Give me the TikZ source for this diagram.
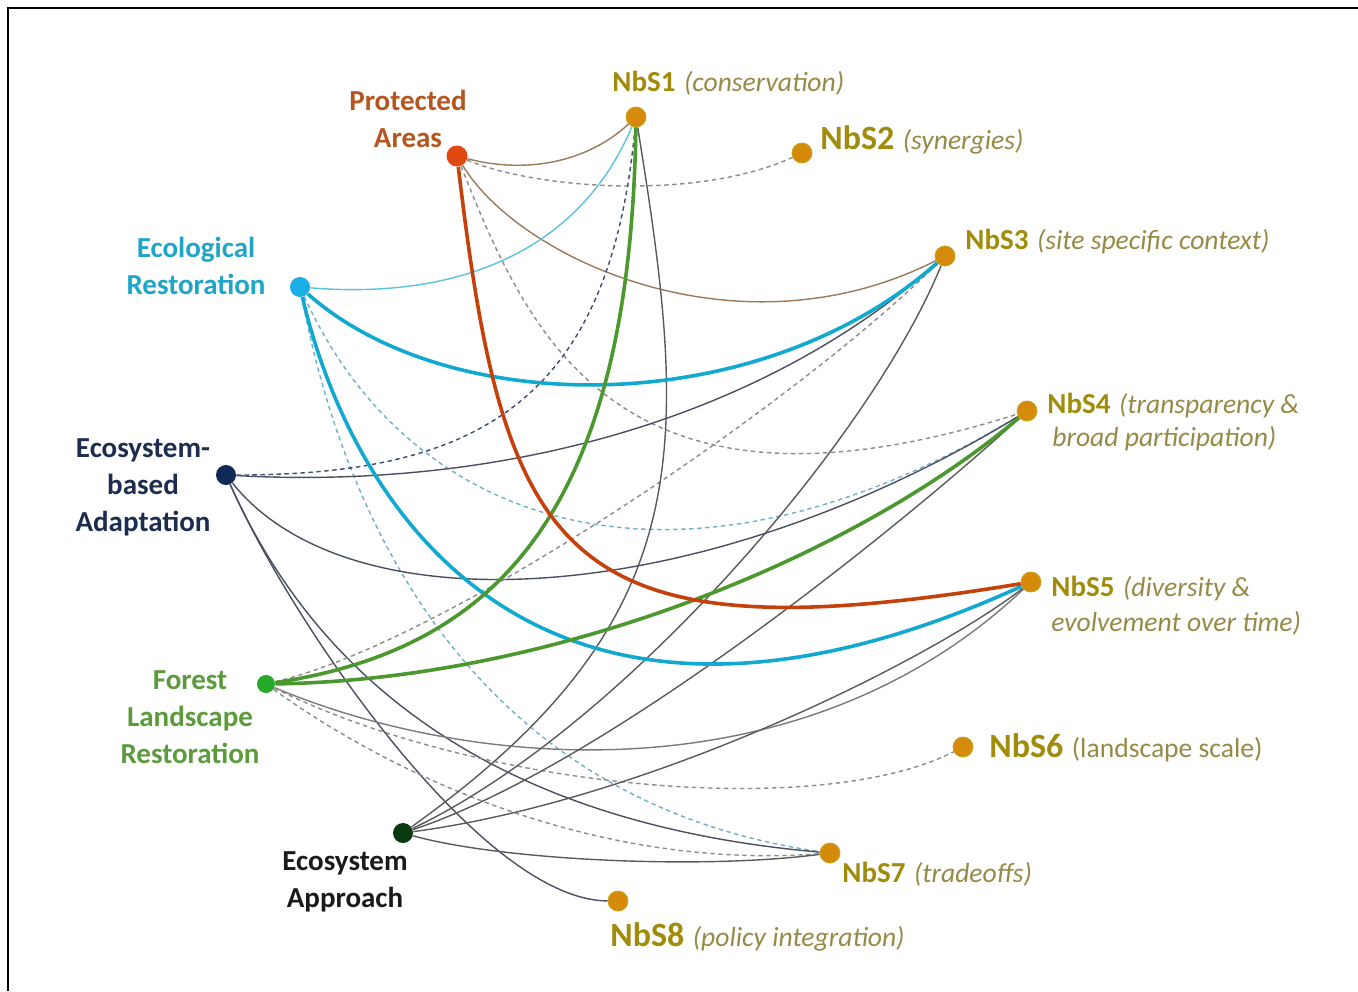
\documentclass[tikz,border=0pt]{standalone}
\usepackage{fontspec}
\setmainfont{Carlito}
\definecolor{nbsc}{HTML}{A08C0A}
\definecolor{nbsi}{HTML}{968A46}
\definecolor{nbsfill}{HTML}{D68A0A}
\definecolor{nbsrim}{HTML}{C9A21A}
\definecolor{pac}{HTML}{B4561E}
\definecolor{erc}{HTML}{1EA5C8}
\definecolor{ebac}{HTML}{1C2D4F}
\definecolor{flrc}{HTML}{5C9B3C}
\definecolor{eac}{HTML}{1A1A1A}
\definecolor{padot}{HTML}{E04A10}
\definecolor{erdot}{HTML}{19AEE6}
\definecolor{ebadot}{HTML}{102A58}
\definecolor{flrdot}{HTML}{27AA2A}
\definecolor{eadot}{HTML}{0A3A12}
\definecolor{pathin}{HTML}{9A7A5A}
\definecolor{erthin}{HTML}{5BC3DC}
\definecolor{ebathin}{HTML}{4A5060}
\definecolor{flrthin}{HTML}{7A7A7A}
\definecolor{eathin}{HTML}{5A5A5A}
\definecolor{dashgray}{HTML}{8C8C8C}
\definecolor{ebadash}{HTML}{3C4A70}
\definecolor{erdash}{HTML}{6FB0C4}
\definecolor{pared}{HTML}{C4410C}
\definecolor{ercyan}{HTML}{11A9D0}
\definecolor{flrgreen}{HTML}{4A982E}
\newcommand{\nbsb}[2][14.5]{{\color{nbsc}\bfseries\fontsize{#1}{#1}\selectfont #2}\hspace{2pt}}
\newcommand{\nbsit}[1]{{\color{nbsi}\itshape\fontsize{13.8}{16}\selectfont #1}}
\newcommand{\nbsup}[1]{{\color{nbsi}\fontsize{13.8}{16}\selectfont #1}}
\pgfdeclarelayer{bg}
\pgfsetlayers{bg,main}
\tikzset{
  thinln/.style={line width=0.7pt},
  thickln/.style={line width=1.8pt},
  dashln/.style={line width=0.7pt, dash pattern=on 2.2pt off 1.8pt, draw=dashgray},
  nbsdot/.style={circle, fill=nbsfill, draw=nbsrim, line width=0.4pt, inner sep=0pt, minimum size=10pt},
  srcdot/.style={circle, inner sep=0pt, minimum size=10pt},
  lbl/.style={font=\bfseries\fontsize{14.5}{18.5}\selectfont, align=center, inner sep=0pt},
  nbslbl/.style={anchor=west, inner sep=0pt},
}
\begin{document}
\begin{tikzpicture}[x=0.5pt,y=-0.5pt]
\useasboundingbox (0,0) rectangle (1358,991);
\begin{pgfonlayer}{bg}
\fill[white] (0,0) rectangle (1358,991);
\draw[line width=1.3pt] (8,991) -- (8,8) -- (1358,8);
\end{pgfonlayer}

% dots
\node[srcdot, fill=padot, minimum size=10.5pt] (PA) at (457,156) {};
\node[srcdot, fill=erdot] (ER) at (300,287) {};
\node[srcdot, fill=ebadot] (EbA) at (226,475) {};
\node[srcdot, fill=flrdot, minimum size=9pt] (FLR) at (266,684) {};
\node[srcdot, fill=eadot] (EA) at (403,833) {};
\node[nbsdot] (N1) at (636,117) {};
\node[nbsdot] (N2) at (802,153) {};
\node[nbsdot] (N3) at (945,256) {};
\node[nbsdot] (N4) at (1027,411) {};
\node[nbsdot] (N5) at (1031,582) {};
\node[nbsdot] (N6) at (963,747) {};
\node[nbsdot] (N7) at (830,853) {};
\node[nbsdot] (N8) at (618,901) {};

\begin{pgfonlayer}{bg}
% thin and dashed connectors
\draw[thinln, pathin] (PA) .. controls (530,175) and (590,160) .. (N1);
\draw[dashln] (PA) .. controls (540,190) and (700,200) .. (N2);
\draw[thinln, pathin] (PA) .. controls (520,260) and (740,360) .. (N3);
\draw[dashln] (PA) .. controls (530,340) and (620,540) .. (N4);

\draw[thinln, erthin] (ER) .. controls (460,300) and (580,250) .. (N1);
\draw[dashln, draw=erdash] (ER) .. controls (410,530) and (680,620) .. (N4);
\draw[dashln, draw=erdash] (ER) .. controls (340,500) and (460,800) .. (N7);

\draw[dashln, draw=ebadash] (EbA) .. controls (480,475) and (610,400) .. (N1);
\draw[thinln, ebathin] (EbA) .. controls (500,490) and (760,420) .. (N3);
\draw[thinln, ebathin] (EbA) .. controls (350,630) and (700,610) .. (N4);
\draw[thinln, ebathin] (EbA) .. controls (300,640) and (450,820) .. (N7);
\draw[thinln, ebathin] (EbA) .. controls (290,620) and (480,900) .. (N8);

\draw[dashln] (FLR) .. controls (450,640) and (800,400) .. (N3);
\draw[thinln, flrthin] (FLR) .. controls (470,770) and (800,800) .. (N5);
\draw[dashln] (FLR) .. controls (480,790) and (820,820) .. (N6);
\draw[dashln] (FLR) .. controls (400,780) and (600,870) .. (N7);

\draw[thinln, eathin] (EA) .. controls (700,620) and (690,450) .. (N1);
\draw[thinln, eathin] (EA) .. controls (620,730) and (870,440) .. (N3);
\draw[thinln, eathin] (EA) .. controls (620,760) and (930,500) .. (N4);
\draw[thinln, eathin] (EA) .. controls (650,800) and (930,660) .. (N5);
\draw[thinln, eathin] (EA) .. controls (500,860) and (700,870) .. (N7);

% thick connectors
\draw[thickln, ercyan] (ER) .. controls (450,420) and (760,420) .. (N3);
\draw[thickln, ercyan] (ER) .. controls (350,500) and (530,810) .. (N5);
\draw[thickln, flrgreen] (FLR) .. controls (490,650) and (630,520) .. (N1);
\draw[thickln, flrgreen] (FLR) .. controls (550,680) and (850,560) .. (N4);
\draw[thickln, pared] (PA) .. controls (505,560) and (560,660) .. (N5);
\end{pgfonlayer}

% source labels
\node[lbl, text=pac] (tPA) at (408,119) {Protected\\Areas};
\node[lbl, text=erc] (tER) at (196,265.5) {Ecological\\Restoration};
\node[lbl, text=ebac] (tEbA) at (143,487) {Ecosystem-\\based\\Adaptation};
\node[lbl, text=flrc] (tFLR) at (190,717) {Forest\\Landscape\\Restoration};
\node[lbl, text=eac] (tEA) at (345,881.5) {Ecosystem\\Approach};

% NbS labels
\node[nbslbl] (t1) at (612,83) {\nbsb{NbS1} \nbsit{(conservation)}};
\node[nbslbl] (t2) at (820,140) {\nbsb[17]{NbS2} \nbsit{(synergies)}};
\node[nbslbl] (t3) at (965,242) {\nbsb{NbS3} \nbsit{(site specific context)}};
\node[nbslbl] (t4a) at (1047,406) {\nbsb{NbS4} \nbsit{(transparency \&}};
\node[nbslbl] (t4b) at (1052,439) {\nbsit{broad participation)}};
\node[nbslbl] (t5a) at (1051,589) {\nbsb{NbS5} \nbsit{(diversity \&}};
\node[nbslbl] (t5b) at (1051,623) {\nbsit{evolvement over time)}};
\node[nbslbl] (t6) at (989,748) {\nbsb[17]{NbS6} \nbsup{(landscape scale)}};
\node[nbslbl] (t7) at (842,874) {\nbsb{NbS7} \nbsit{(tradeoffs)}};
\node[nbslbl] (t8) at (610,937) {\nbsb[17]{NbS8} \nbsit{(policy integration)}};
\end{tikzpicture}
\end{document}
